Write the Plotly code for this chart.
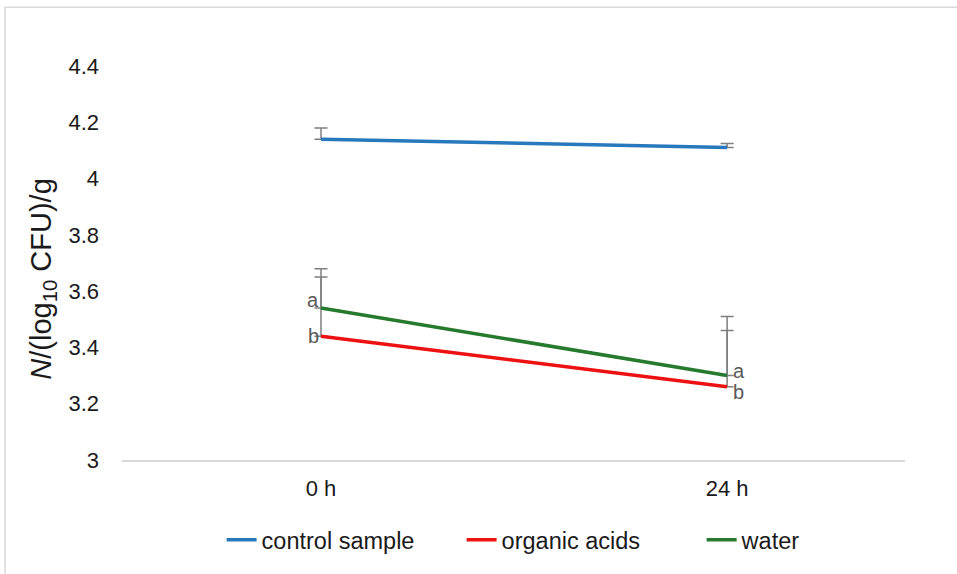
import plotly.graph_objects as go

times = ["0 h", "24 h"]
control = [4.14, 4.11]
control_err = [0.04, 0.015]
organic = [3.44, 3.26]
organic_err = [0.24, 0.25]
water = [3.54, 3.30]
water_err = [0.11, 0.16]
organic_letters = ["b", "b"]
water_letters = ["a", "a"]
y_ticks = [3, 3.2, 3.4, 3.6, 3.8, 4, 4.2, 4.4]
y_tick_text = ["3", "3.2", "3.4", "3.6", "3.8", "4", "4.2", "4.4"]

FONT = "Liberation Sans, Arial, sans-serif"
TXT = "#1a1a1a"

fig = go.Figure()
series = [
    ("control sample", control, control_err, "#2878BD"),
    ("organic acids", organic, organic_err, "#EE1111"),
    ("water", water, water_err, "#267A2E"),
]
for name, vals, errs, col in series:
    fig.add_trace(go.Scatter(
        x=times, y=vals, name=name, mode="lines",
        line=dict(color=col, width=3.5),
        error_y=dict(type="data", symmetric=False, array=errs, arrayminus=[0, 0],
                     color="#7f7f7f", thickness=1.5, width=6.5),
        hoverinfo="skip"))

# significance letters
annos = []
for letters, vals, shifts in [(organic_letters, organic, [0, -5]),
                              (water_letters, water, [8, 5])]:
    for i, (t, v) in enumerate(zip(times, vals)):
        annos.append(dict(
            x=t, y=v, xref="x", yref="y", text=letters[i], showarrow=False,
            xanchor="right" if i == 0 else "left",
            xshift=0 if i == 0 else 4, yshift=shifts[i],
            font=dict(family=FONT, size=20, color="#595959")))

# y-axis title
annos.append(dict(
    x=-0.102, y=0.458, xref="paper", yref="paper", textangle=-90,
    text="<i>N</i>/(log<sub>10</sub> CFU)/g", showarrow=False,
    xanchor="center", yanchor="middle",
    font=dict(family=FONT, size=29, color=TXT)))

fig.update_layout(
    width=957, height=574,
    margin=dict(l=122, r=52, t=66, b=111.5),
    paper_bgcolor="white", plot_bgcolor="white",
    font=dict(family=FONT, size=22, color=TXT),
    showlegend=True,
    legend=dict(orientation="h", x=0.587, xanchor="center", y=-0.203, yanchor="middle",
                font=dict(family=FONT, size=23.5, color=TXT),
                itemwidth=30, tracegroupgap=0, entrywidth=195),
    xaxis=dict(type="category", range=[-0.490, 1.438], showgrid=False,
               showline=True, linecolor="#d9d9d9", linewidth=1.5,
               ticks="", tickfont=dict(family=FONT, size=22, color=TXT),
               ticklabelstandoff=8),
    yaxis=dict(range=[3, 4.4], tickvals=y_ticks, ticktext=y_tick_text,
               showgrid=False, zeroline=False, showline=False, ticks="",
               tickfont=dict(family=FONT, size=22, color=TXT),
               ticklabelstandoff=22),
    annotations=annos,
    shapes=[dict(type="rect", xref="paper", yref="paper",
                 x0=-0.1494, x1=1.08, y0=-0.4, y1=1.1488,
                 line=dict(color="#d9d9d9", width=1.5), layer="below")],
)

fig.write_html("out.html", config={"displayModeBar": False},
               post_script="document.body.style.margin='0';document.body.style.overflow='hidden';")
